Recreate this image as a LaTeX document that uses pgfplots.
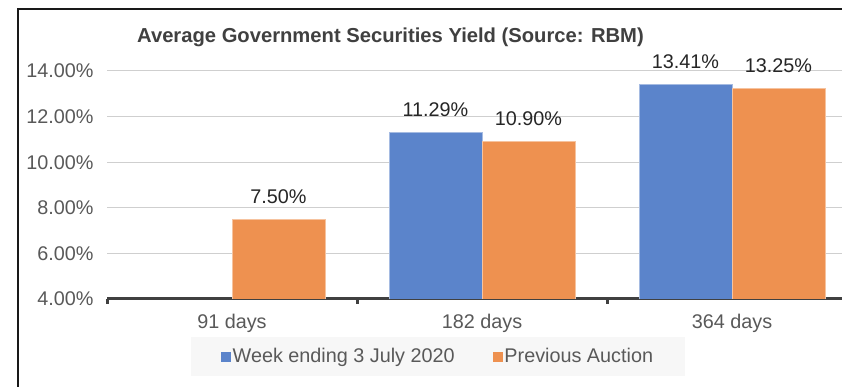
\documentclass[border=0pt]{standalone}
\usepackage{pgfplots}
\pgfplotsset{compat=1.18}
\usepackage{fontspec}
\setmainfont{Liberation Sans}
\definecolor{barblue}{HTML}{5B84CB}
\definecolor{barorange}{HTML}{EE9150}
\definecolor{txtgray}{HTML}{595959}
\definecolor{axgray}{HTML}{404040}
\definecolor{gridgray}{HTML}{CFCFCF}
\definecolor{legfill}{HTML}{F7F7F7}
\newcommand{\chartfont}{\fontsize{19.8}{22}\selectfont}
\begin{document}
\begin{tikzpicture}[x=1pt,y=1pt]
\useasboundingbox (0,0) rectangle (842,387);
\clip (0,0) rectangle (842,387);
\fill[white] (0,0) rectangle (842,387);
\draw[line width=1.5pt, black!90] (18,-20) -- (18,378) -- (900,378);
\begin{axis}[
  at={(107pt,88pt)}, anchor=south west,
  scale only axis, width=750pt, height=228pt,
  xmin=-0.5, xmax=2.5, ymin=4, ymax=14,
  ybar=0pt, bar width=93pt,
  axis x line*=bottom, axis y line*=left,
  y axis line style={draw=none},
  x axis line style={line width=3pt, axgray},
  xtick={0,1,2}, xticklabels={91 days,182 days,364 days},
  major tick length=0pt,
  minor xtick={-0.5,0.5,1.5,2.5},
  minor tick length=5pt, xtick align=outside,
  minor x tick style={line width=3pt, axgray},
  ytick={4,6,8,10,12,14},
  ytick style={draw=none},
  ymajorgrids, grid style={gridgray, line width=1pt},
  /pgf/number format/assume math mode=true,
  yticklabel={\pgfmathprintnumber[fixed,fixed zerofill,precision=2]{\tick}\%},
  ticklabel style={font=\chartfont, text=txtgray},
  yticklabel style={xshift=-10pt},
  xticklabel style={yshift=-12pt},
  nodes near coords={\pgfmathprintnumber[fixed,fixed zerofill,precision=2,assume math mode=true]{\pgfplotspointmeta}\%},
  nodes near coords style={font=\chartfont, text=black!85, anchor=base, yshift=16pt},
  title={Average Government Securities Yield (Source: RBM)},
  title style={at={(0.04,1.0965)}, anchor=base west, font=\fontsize{20.2}{23}\selectfont\bfseries, text=axgray, inner sep=0pt},
  legend style={at={(0.4413,-0.2522)}, anchor=center, fill=legfill, draw=none,
    font=\chartfont, text=txtgray, inner xsep=30pt, inner ysep=10pt,
    /tikz/every even column/.append style={column sep=36pt}},
  legend columns=2,
]
\addplot[fill=barblue, draw=barblue!55!white, line width=0.8pt,
  legend image code/.code={\fill[barblue] (0pt,-4.5pt) rectangle (9pt,4.5pt);}]
  coordinates {(1,11.29) (2,13.41)};
\addplot[fill=barorange, draw=barorange!55!white, line width=0.8pt,
  legend image code/.code={\fill[barorange] (0pt,-4.5pt) rectangle (9pt,4.5pt);}]
  coordinates {(0,7.50) (1,10.90) (2,13.25)};
\legend{Week ending 3 July 2020, Previous Auction}
\end{axis}
\end{tikzpicture}
\end{document}
